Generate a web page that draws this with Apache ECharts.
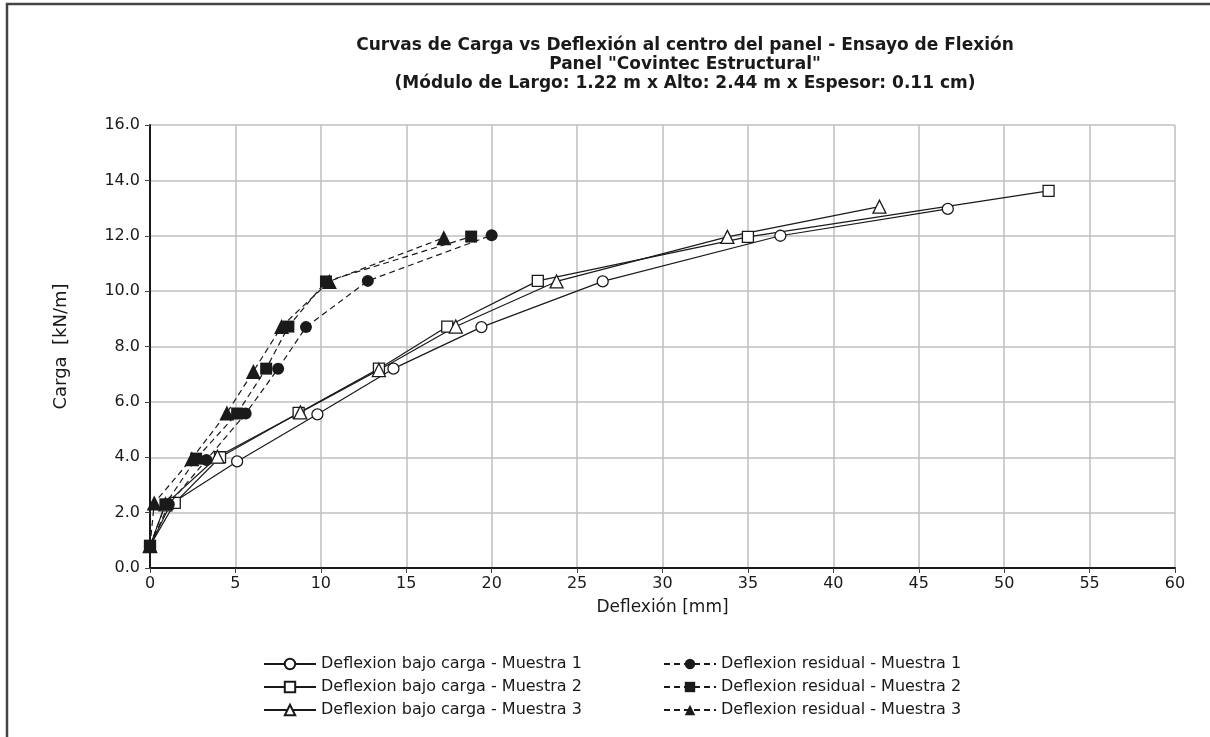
<!DOCTYPE html>
<html>
<head>
<meta charset="utf-8">
<script src="https://cdn.jsdelivr.net/npm/echarts@6/dist/echarts.min.js"></script>
<style>
html,body{margin:0;padding:0;background:#fff;}
#chart{width:1210px;height:737px;}
</style>
</head>
<body>
<div id="chart"></div>
<script>
// Deflexión [mm] vs Carga [kN/m]
const titleLines = [
  'Curvas de Carga vs Deflexión al centro del panel - Ensayo de Flexión',
  'Panel "Covintec Estructural"',
  '(Módulo de Largo: 1.22 m x Alto: 2.44 m x Espesor: 0.11 cm)'
];
const xAxisName = 'Deflexión [mm]';
const yAxisName = 'Carga  [kN/m]';

const carga1 = [0.8, 2.3, 3.85, 5.55, 7.2, 8.7, 10.35, 12.0, 12.97];
const defCarga1 = [0, 1.2, 5.1, 9.8, 14.25, 19.4, 26.5, 36.9, 46.7];

const carga2 = [0.8, 2.35, 4.0, 5.6, 7.2, 8.72, 10.37, 11.96, 13.62];
const defCarga2 = [0, 1.45, 4.1, 8.7, 13.4, 17.4, 22.7, 35.0, 52.6];

const carga3 = [0.8, 2.3, 4.02, 5.62, 7.15, 8.72, 10.35, 11.96, 13.05];
const defCarga3 = [0, 0.9, 3.95, 8.8, 13.4, 17.9, 23.8, 33.8, 42.7];

const cargaRes1 = [0.8, 2.3, 3.9, 5.58, 7.2, 8.7, 10.37, 12.02];
const defRes1 = [0, 1.1, 3.3, 5.6, 7.5, 9.13, 12.75, 20.0];

const cargaRes2 = [0.8, 2.3, 3.95, 5.58, 7.2, 8.72, 10.35, 11.97];
const defRes2 = [0, 0.9, 2.7, 5.1, 6.8, 8.1, 10.3, 18.8];

const cargaRes3 = [0.8, 2.35, 3.95, 5.6, 7.1, 8.72, 10.35, 11.93];
const defRes3 = [0, 0.25, 2.45, 4.5, 6.05, 7.7, 10.5, 17.2];

const names = [
  'Deflexion bajo carga - Muestra 1',
  'Deflexion residual - Muestra 1',
  'Deflexion bajo carga - Muestra 2',
  'Deflexion residual - Muestra 2',
  'Deflexion bajo carga - Muestra 3',
  'Deflexion residual - Muestra 3'
];

function pairs(xs, ys) { return xs.map((x, i) => [x, ys[i]]); }

const FONT = 'DejaVu Sans';
const INK = '#1a1a1a';

function loadSeries(name, xs, ys, symbol, size) {
  return {
    name: name, type: 'line', data: pairs(xs, ys),
    symbol: symbol, symbolSize: size, showAllSymbol: true,
    lineStyle: { color: INK, width: 1.2, type: 'solid' },
    itemStyle: { color: '#ffffff', borderColor: INK, borderWidth: 1.3 },
    emphasis: { disabled: true }, animation: false, z: 3
  };
}
function resSeries(name, xs, ys, symbol, size) {
  return {
    name: name, type: 'line', data: pairs(xs, ys),
    symbol: symbol, symbolSize: size, showAllSymbol: true,
    lineStyle: { color: INK, width: 1.2, type: [6, 4] },
    itemStyle: { color: INK, borderColor: INK, borderWidth: 0 },
    emphasis: { disabled: true }, animation: false, z: 4
  };
}

const chart = echarts.init(document.getElementById('chart'), null, { renderer: 'canvas' });
chart.setOption({
  backgroundColor: '#ffffff',
  animation: false,
  textStyle: { fontFamily: FONT },
  title: {
    text: titleLines.join('\n'),
    left: 680, top: 31, textAlign: 'center',
    textStyle: { fontFamily: FONT, fontSize: 17, fontWeight: 'bold', lineHeight: 19, color: INK }
  },
  graphic: [{
    type: 'rect', shape: { x: 7, y: 4, width: 1400, height: 900 },
    style: { fill: 'none', stroke: '#444', lineWidth: 2.5 }, silent: true, z: 100
  }],
  grid: { left: 150, right: 35, top: 125, bottom: 169, containLabel: false },
  xAxis: {
    type: 'value', min: 0, max: 60, interval: 5,
    name: xAxisName, nameLocation: 'middle', nameGap: 31,
    nameTextStyle: { fontFamily: FONT, fontSize: 17, color: INK },
    axisLine: { show: true, onZero: false, lineStyle: { color: INK, width: 2 } },
    axisTick: { show: true, inside: false, length: 5, lineStyle: { color: '#444', width: 1 } },
    axisLabel: { fontFamily: FONT, fontSize: 16, color: INK, margin: 8 },
    splitLine: { show: true, lineStyle: { color: '#bfbfbf', width: 1.5 } }
  },
  yAxis: {
    type: 'value', min: 0, max: 16, interval: 2,
    name: yAxisName, nameLocation: 'middle', nameGap: 80, nameRotate: 90,
    nameTextStyle: { fontFamily: FONT, fontSize: 18, color: INK },
    axisLine: { show: true, onZero: false, lineStyle: { color: INK, width: 2 } },
    axisTick: { show: true, inside: false, length: 5, lineStyle: { color: '#444', width: 1 } },
    axisLabel: { fontFamily: FONT, fontSize: 16, color: INK, margin: 10, formatter: v => v.toFixed(1) },
    splitLine: { show: true, lineStyle: { color: '#bfbfbf', width: 1.5 } }
  },
  legend: [{
    orient: 'vertical', left: 258, top: 651, itemGap: 7, itemWidth: 52, itemHeight: 13,
    data: [names[0], names[2], names[4]],
    textStyle: { fontFamily: FONT, fontSize: 16, color: INK, padding: [0, 0, 0, 0] },
    selectedMode: false
  }, {
    orient: 'vertical', left: 658, top: 651, itemGap: 7, itemWidth: 52, itemHeight: 13,
    data: [names[1], names[3], names[5]],
    textStyle: { fontFamily: FONT, fontSize: 16, color: INK, padding: [0, 0, 0, 0] },
    selectedMode: false
  }],
  series: [
    loadSeries(names[0], defCarga1, carga1, 'circle', 11),
    resSeries(names[1], defRes1, cargaRes1, 'circle', 12),
    loadSeries(names[2], defCarga2, carga2, 'rect', 11),
    resSeries(names[3], defRes2, cargaRes2, 'rect', 12),
    loadSeries(names[4], defCarga3, carga3, 'triangle', 13),
    resSeries(names[5], defRes3, cargaRes3, 'triangle', 15)
  ]
});
</script>
</body>
</html>
